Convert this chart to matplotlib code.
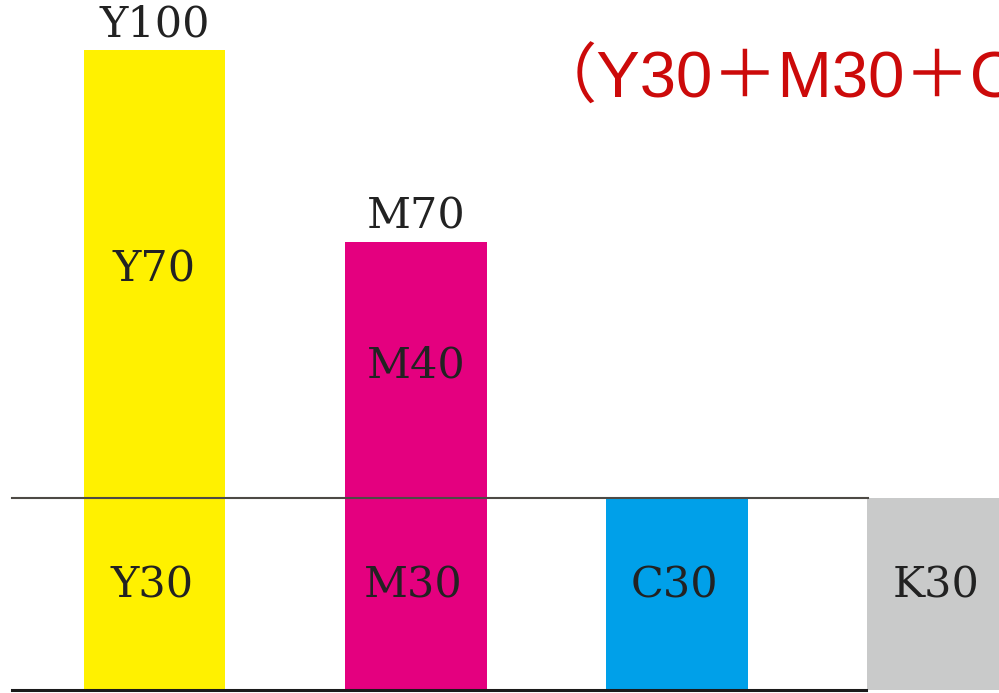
import matplotlib
matplotlib.use("Agg")
import matplotlib.pyplot as plt

# CMYK ink components
inks = ["Y", "M", "C", "K"]
base_values = [30, 30, 30, 30]      # lower part shared by every ink
upper_values = [70, 40, 0, 0]       # extra amount stacked on top
total_values = [100, 70, 30, 30]
ink_colors = ["#FFF100", "#E4007F", "#00A0E9", "#C9CACA"]
title_text = "（Y30＋M30＋C30＋K30）"

fig = plt.figure(figsize=(9.99, 6.93), dpi=100)
ax = fig.add_axes([0, 0, 1, 1])
ax.set_xlim(-0.5914, 3.2325)
ax.set_ylim(-0.53, 107.8)
ax.axis("off")

x = list(range(len(inks)))
bar_w = 0.5435
ax.bar(x, base_values, width=bar_w, color=ink_colors, linewidth=0, zorder=2)
ax.bar(x, upper_values, width=bar_w, bottom=base_values, color=ink_colors,
       linewidth=0, zorder=2)

# reference line at the common level and the baseline
ax.axhline(30, xmin=0.012, xmax=0.869, color="#4d4a45", linewidth=1.5, zorder=3)
ax.axhline(0, xmin=0.012, xmax=0.867, color="#1a1a1a", linewidth=2.2, zorder=3)

label_kw = dict(family="DejaVu Serif", fontsize=31, color="#222222",
                ha="center", va="center", zorder=4)

for i, (ink, b, u, t) in enumerate(zip(inks, base_values, upper_values, total_values)):
    ax.text(i - 0.01, b * 0.54, f"{ink}{b}", **label_kw)
    if u > 0:
        ax.text(i, b + u / 2 + 0.6, f"{ink}{u}", **label_kw)
        ax.text(i, t + 4.0, f"{ink}{t}", **label_kw)

fig.text(532 / 999, 1 - 98 / 693, title_text,
         family=["Liberation Sans", "Noto Sans CJK SC", "DejaVu Sans"],
         fontsize=47, color="#CC0A0A", ha="left", va="baseline")

fig.savefig("out.png", dpi=100)
